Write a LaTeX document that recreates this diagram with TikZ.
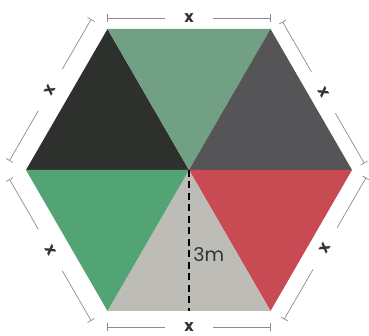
\documentclass[tikz,border=0pt]{standalone}
\usepackage{fontspec}
\setmainfont{Poppins}
\usetikzlibrary{calc}

\definecolor{darkc}{HTML}{2E302E}
\definecolor{sagec}{HTML}{72A084}
\definecolor{greyc}{HTML}{555456}
\definecolor{greenc}{HTML}{53A474}
\definecolor{stonec}{HTML}{BDBCB7}
\definecolor{redc}{HTML}{C84A52}
\definecolor{inkc}{HTML}{333333}

\tikzset{
  dimline/.style={draw=gray!90, line width=0.7pt},
  xlab/.style={text=inkc, font=\fontsize{16}{19}\selectfont\bfseries, inner sep=0pt},
  hline/.style={draw=black, line width=2.2pt, dash pattern=on 7pt off 4.5pt},
}

\begin{document}
\begin{tikzpicture}[x=1pt,y=1pt]
\useasboundingbox (0,0) rectangle (369,336);

% hexagon corners
\coordinate (C) at (189,166);
\coordinate (TL) at (107.5,307);
\coordinate (TR) at (270.5,307);
\coordinate (R) at (352,166);
\coordinate (BR) at (270.5,25);
\coordinate (BL) at (107.5,25);
\coordinate (L) at (26,166);
\coordinate (B) at (189,25);

% six triangles
\fill[darkc] (C) -- (L) -- (TL) -- cycle;
\fill[sagec] (C) -- (TL) -- (TR) -- cycle;
\fill[greyc] (C) -- (TR) -- (R) -- cycle;
\fill[redc] (C) -- (R) -- (BR) -- cycle;
\fill[stonec] (C) -- (BR) -- (BL) -- cycle;
\fill[greenc] (C) -- (BL) -- (L) -- cycle;

% side dimensions
\foreach \p/\q/\d [count=\i] in {L/TL/19pt, TL/TR/11pt, TR/R/14pt, R/BR/16pt, BR/BL/16pt, BL/L/19pt} {
  \coordinate (s\i a) at ($(\p)!\d!90:(\q)$);
  \coordinate (s\i b) at ($(\q)!\d!-90:(\p)$);
  \draw[dimline] (s\i a) -- ($(s\i a)!0.5!(s\i b)!24pt!(s\i a)$);
  \draw[dimline] (s\i b) -- ($(s\i a)!0.5!(s\i b)!24pt!(s\i b)$);
  \draw[dimline] ($(s\i a)!4pt!90:(s\i b)$) -- ($(s\i a)!4pt!-90:(s\i b)$);
  \draw[dimline] ($(s\i b)!4pt!90:(s\i a)$) -- ($(s\i b)!4pt!-90:(s\i a)$);
  \path (s\i a) -- (s\i b) node[midway, sloped, xlab] (x\i) {x};
}

% height
\draw[hline] (C) -- (B) node[pos=0.6, right, text=inkc, font=\fontsize{19}{22}\selectfont] (hgt) {3m};
\end{tikzpicture}
\end{document}
